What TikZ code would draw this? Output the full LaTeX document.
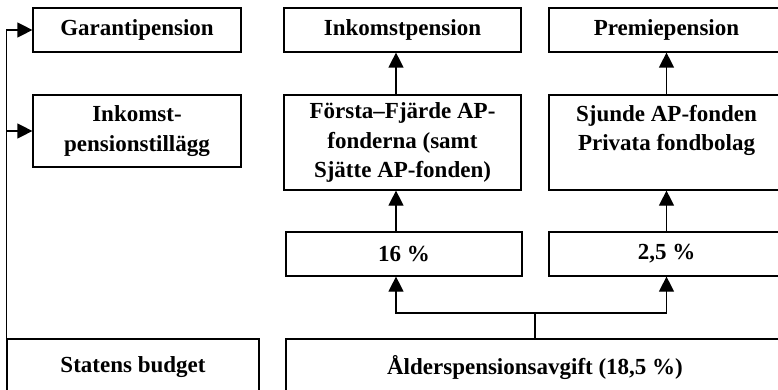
\documentclass[tikz,border=0pt]{standalone}
\usepackage{fontspec}
\setmainfont{Liberation Serif}
\usetikzlibrary{arrows.meta,calc}
\begin{document}
\begin{tikzpicture}[x=1pt,y=-1pt,
  box/.style={draw=black, line width=1.2pt, rectangle, inner sep=2pt, align=center,
    font=\bfseries\fontsize{23}{29.5}\selectfont},
  conn/.style={line width=1.2pt},
  arr/.style={conn, -{Triangle[length=15pt,width=15pt]}}]
\useasboundingbox (0,0) rectangle (778,390);
\clip (0,0) rectangle (778,390);
% top row
\node[box, minimum width=208pt, minimum height=44pt] (garanti) at (137,30) {Garantipension};
\node[box, minimum width=237pt, minimum height=44pt] (inkp) at (402.5,30) {Inkomstpension};
\node[box, minimum width=235pt, minimum height=44pt] (premie) at (666.5,30) {Premiepension};
% second row
\node[box, minimum width=208pt, minimum height=72pt] (tillagg) at (137,131) {Inkomst-\\pensionstillägg};
\node[box, minimum width=237pt, minimum height=95pt] (ap14) at (402.5,142.5) {Första–Fjärde AP-\\fonderna (samt\\Sjätte AP-fonden)};
\node[box, minimum width=235pt, minimum height=95pt] (ap7) at (666.5,142.5) {Sjunde AP-fonden\\Privata fondbolag\\\mbox{}};
% third row
\node[box, minimum width=236pt, minimum height=44pt] (p16) at (404,254) {16 \%};
\node[box, minimum width=235pt, minimum height=44pt] (p25) at (666.5,254) {2,5 \%};
% bottom row (cut by the picture edge)
\node[box, minimum width=252pt, minimum height=61pt] (statens) at (133,369.5) {\raisebox{9pt}{Statens budget}};
\node[box, minimum width=498pt, minimum height=61pt] (alder) at (535,369.5) {\raisebox{9pt}{Ålderspensionsavgift (18,5 \%)}};
% connectors
\draw[arr] (statens.north west) |- (garanti.west);
\draw[arr] (statens.north west |- tillagg.west) -- (tillagg.west);
\draw[arr] ([xshift=-6.5pt]ap14.north) -- ([xshift=-6.5pt]inkp.south);
\draw[arr] (ap7.north) -- (premie.south);
\draw[arr] ([xshift=-8pt]p16.north) -- ([xshift=-8pt]p16.north |- ap14.south);
\draw[arr] (p25.north) -- (ap7.south);
\coordinate (split) at (535,313);
\draw[conn] (alder.north) -- (split);
\draw[arr] (split) -| ([xshift=-8pt]p16.south);
\draw[arr] (split) -| (p25.south);
\end{tikzpicture}
\end{document}
